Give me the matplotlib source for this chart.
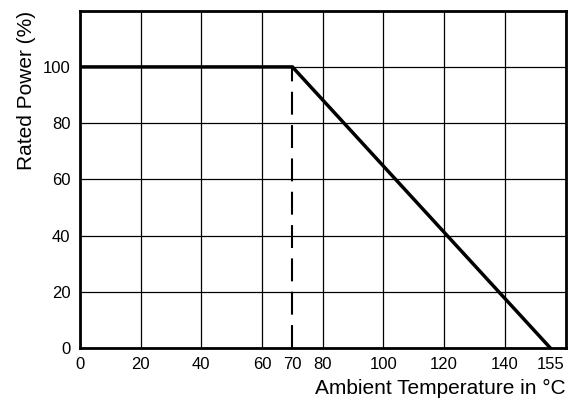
import matplotlib
matplotlib.use("Agg")
import matplotlib.pyplot as plt

plt.rcParams['font.family'] = ['Liberation Sans', 'DejaVu Sans']

temp = [0, 70, 155]
power = [100, 100, 0]
knee_temp = 70
knee_power = 100
xticks = [0, 20, 40, 60, 70, 80, 100, 120, 140, 155]
xgrid = [0, 20, 40, 60, 80, 100, 120, 140]
yticks = [0, 20, 40, 60, 80, 100]

fig = plt.figure(figsize=(5.71, 4.0), dpi=100)
ax = fig.add_axes([80/571, 52/400, 485.5/571, 337.3/400])
ax.set_xlim(0, 160)
ax.set_ylim(0, 120)

for g in xgrid:
    ax.axvline(g, color='black', lw=0.9, zorder=1)
for g in yticks:
    ax.axhline(g, color='black', lw=0.9, zorder=1)

ax.plot([knee_temp, knee_temp], [0, knee_power], color='black', lw=1.5,
        dashes=(11, 5), zorder=2)
ax.plot(temp, power, color='black', lw=2.5, solid_joinstyle='miter', zorder=3)

ax.set_xticks(xticks)
ax.set_xticklabels([str(t) for t in xticks])
ax.set_yticks(yticks)
ax.set_yticklabels([str(t) for t in yticks])
ax.tick_params(axis='x', length=0, labelsize=12, pad=6.5)
ax.tick_params(axis='y', length=0, labelsize=12, pad=7)
for s in ax.spines.values():
    s.set_linewidth(2.0)
    s.set_color('black')

ax.set_xlabel('Ambient Temperature in °C', fontsize=15, loc='right', labelpad=5)
ax.set_ylabel('Rated Power (%)', fontsize=15, loc='top', labelpad=4.5)

fig.savefig('out.png', dpi=100)
